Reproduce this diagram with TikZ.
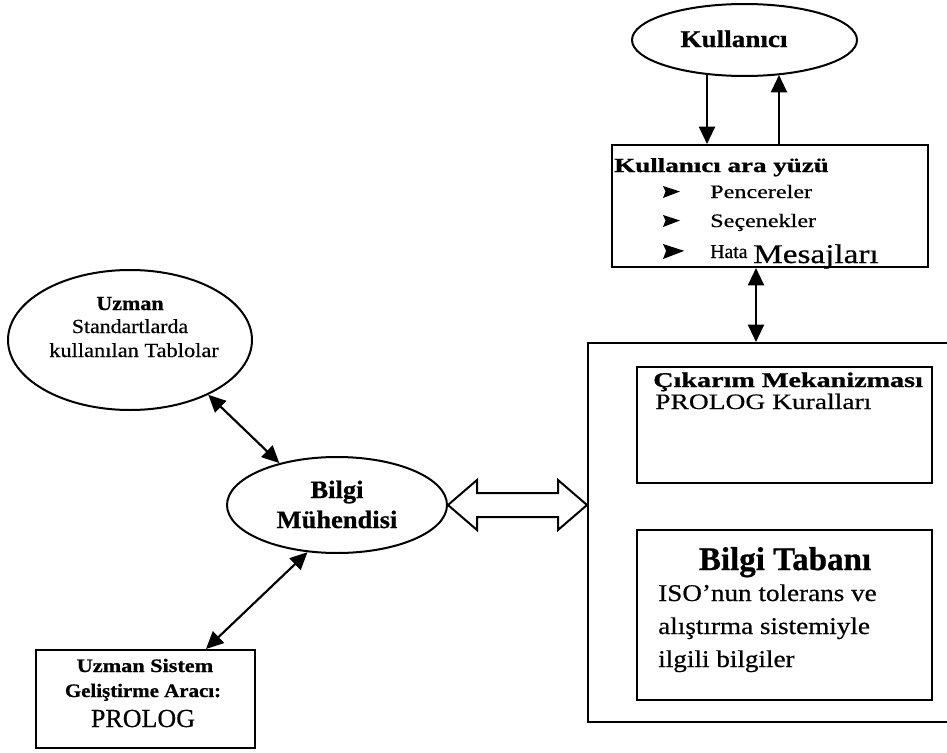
\documentclass[tikz,border=0pt]{standalone}
\usepackage{fontspec}
\setmainfont{Liberation Serif}[UprightFeatures={FakeBold=0.5},BoldFeatures={FakeBold=0.8}]
\usepackage{graphicx}
\usetikzlibrary{shapes.geometric,arrows.meta,fit,calc}
\newcommand\sx[2]{\scalebox{#1}[1]{#2}}
\newcommand\fs[1]{\fontsize{#1pt}{#1pt}\selectfont}
\begin{document}
\begin{tikzpicture}[x=0.75pt,y=-0.75pt,
  box/.style={draw, line width=1.5pt, inner sep=0pt},
  ell/.style={draw, ellipse, line width=1.5pt, inner sep=0pt},
  lbl/.style={inner sep=0pt, anchor=base west},
  clbl/.style={inner sep=0pt, anchor=base},
  arr/.style={line width=1.6pt, -{Triangle[length=13pt,width=12pt]}},
  darr/.style={line width=1.6pt, {Triangle[length=13pt,width=12pt]}-{Triangle[length=13pt,width=12pt]}},
  bul/.pic={\fill[line join=round] (0,0) -- (17,5.5) -- (0,12) -- (2.5,5.5) -- cycle;}
]
\useasboundingbox (0,0) rectangle (947,753);
\clip (0,0) rectangle (947,753);

% Kullanici ellipse
\node[ell, minimum width=168.75pt, minimum height=54pt] (ku) at (744.5,40) {};
\node[clbl, font=\fs{18}\bfseries] (tku) at (734,47) {\sx{1.13}{Kullanıcı}};

% Kullanici ara yuzu box
\node[box, fit={(612,145) (928,267)}] (kab) {};
\node[lbl, font=\fs{15}\bfseries] (tkab) at (614,172) {\sx{1.35}{Kullanıcı ara yüzü}};
\pic at (663,186) {bul};
\node[lbl, font=\fs{14.25}] (tp1) at (710,198) {\sx{1.27}{Pencereler}};
\pic at (663,215) {bul};
\node[lbl, font=\fs{14.25}] (tp2) at (710,227) {\sx{1.27}{Seçenekler}};
\pic[scale=1.25] at (663,244) {bul};
\node[lbl, font=\fs{14.8}] (tp3) at (710,258) {Hata};
\node[lbl, font=\fs{20.25}] (tp4) at (753,263) {\sx{1.23}{Mesajları}};

% big box
\node[box, fit={(588,343) (990,722)}] (big) {};
\node[box, fit={(637,367) (932,483)}] (cm) {};
\node[lbl, font=\fs{15.75}\bfseries] (tcm) at (653,387) {\sx{1.34}{Çıkarım Mekanizması}};
\node[lbl, font=\fs{16.5}] (tpk) at (655,409) {\sx{1.25}{PROLOG Kuralları}};
\node[box, fit={(637,530) (932,700)}] (bt) {};
\node[clbl, font=\fs{24.75}\bfseries] (tbt) at (785,570) {Bilgi Tabanı};
\node[lbl, font=\fs{18}] (ti1) at (658,601) {\sx{1.13}{ISO’nun tolerans ve}};
\node[lbl, font=\fs{18}] (ti2) at (658,634) {\sx{1.13}{alıştırma sistemiyle}};
\node[lbl, font=\fs{18}] (ti3) at (658,667) {\sx{1.13}{ilgili bilgiler}};

% Uzman ellipse
\node[ell, minimum width=183pt, minimum height=105pt] (uz) at (130,340) {};
\node[clbl, font=\fs{15}\bfseries] (tuz1) at (130,310) {\sx{1.1}{Uzman}};
\node[clbl, font=\fs{15}] (tuz2) at (130,333) {\sx{1.09}{Standartlarda}};
\node[clbl, font=\fs{15}] (tuz3) at (134,357) {\sx{1.12}{kullanılan Tablolar}};

% Bilgi Muhendisi ellipse
\node[ell, minimum width=165pt, minimum height=72pt] (bm) at (337,505) {};
\node[clbl, font=\fs{18.75}\bfseries] (tbm1) at (337,498) {\sx{1.06}{Bilgi}};
\node[clbl, font=\fs{18.75}\bfseries] (tbm2) at (337,528) {\sx{1.06}{Mühendisi}};

% Uzman Sistem box
\node[box, fit={(36,650) (255,748)}] (ps) {};
\node[clbl, font=\fs{14.25}\bfseries] (tps1) at (145,672) {\sx{1.17}{Uzman Sistem}};
\node[clbl, font=\fs{14.25}\bfseries] (tps2) at (143,697) {\sx{1.1}{Geliştirme Aracı:}};
\node[clbl, font=\fs{19.5}] (tps3) at (143,727) {PROLOG};

% connectors
\coordinate (a1) at ($(kab.north west)+(96,0)$);
\coordinate (a2) at ($(kab.north west)+(168,0)$);
\draw[arr] ($(a1 |- ku.south)+(0,-2)$) -- (a1);
\draw[arr] (a2) -- ($(a2 |- ku.south)+(0,-2)$);
\coordinate (a3) at ($(kab.south west)+(145,0)$);
\draw[darr] (a3) -- (a3 |- big.north);
\draw[darr] (uz.-35) -- (bm.144);
\coordinate (psTop) at ($(ps.north west)+(171,0)$);
\draw[darr] (bm.-122) -- (psTop);

% hollow double arrow
\coordinate (dl) at (bm.east);
\coordinate (dr) at (dl -| big.west);
\draw[line width=1.5pt, fill=white, line join=miter]
  (dl) -- ++(29,-25) -- ++(0,13) -- ($(dr)+(-29,-12)$) -- ++(0,-13) -- (dr)
  -- ++(-29,25) -- ++(0,-13) -- ($(dl)+(29,12)$) -- ++(0,13) -- cycle;
\end{tikzpicture}
\end{document}
